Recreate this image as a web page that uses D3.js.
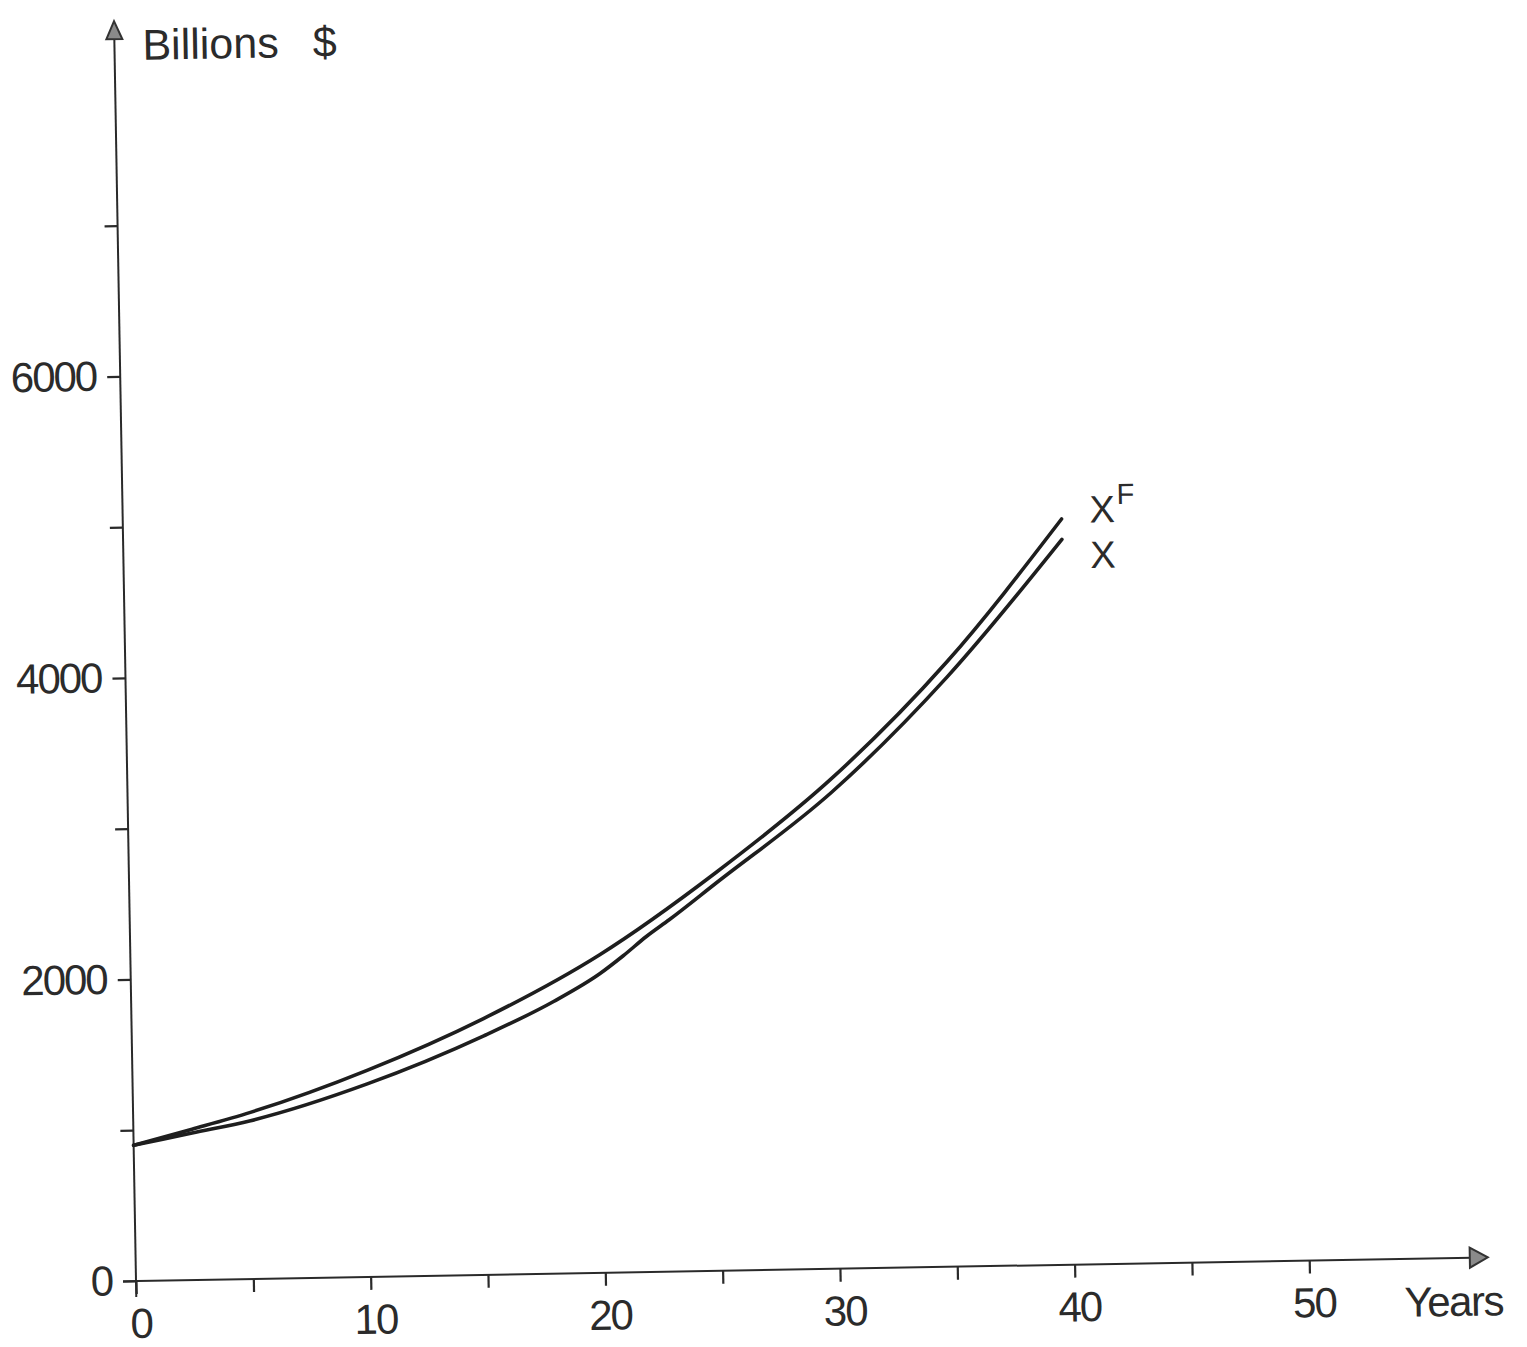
<!DOCTYPE html>
<html>
<head>
<meta charset="utf-8">
<script src="https://cdn.jsdelivr.net/npm/d3@7"></script>
<style>
  html, body { margin: 0; padding: 0; background: #fff; }
  svg { display: block; }
  text { font-family: "Liberation Sans", Arial, sans-serif; fill: #2b2b2b; }
</style>
</head>
<body>
<svg id="chart" width="1527" height="1347"></svg>
<script>
// Projected values, billions of dollars, by year
const xfYears  = [0, 2.5, 5, 10, 15, 20, 25, 30, 35, 40];
const xfValues = [900, 1000, 1105, 1370, 1700, 2110, 2640, 3250, 4010, 4945];

const xYears  = [0, 2.5, 5, 10, 15, 18, 20, 21, 22, 23, 25, 30, 35, 40];
const xValues = [900, 975, 1050, 1280, 1585, 1805, 1985, 2100, 2225, 2335, 2570, 3160, 3910, 4810];

// Axis ticks and labels
const xTickValues = [0, 5, 10, 15, 20, 25, 30, 35, 40, 45, 50];
const xLabelled   = [0, 10, 20, 30, 40, 50];
const yTickValues = [0, 1000, 2000, 3000, 4000, 5000, 6000, 7000];
const yLabelled   = [0, 2000, 4000, 6000];

const svg = d3.select("#chart");
svg.append("rect").attr("width", 1527).attr("height", 1347).attr("fill", "#fff");

// The whole drawing sits slightly turned, as on the printed page
const g = svg.append("g").attr("transform", "translate(136,1281) rotate(-1)");

const x = d3.scaleLinear().domain([0, 50]).range([0, 1173.4]);
const y = d3.scaleLinear().domain([0, 7000]).range([0, -1055.6]);

const ink = "#2a2a2a";

// Axis lines with arrowheads
g.append("line")
  .attr("x1", -13).attr("y1", 0).attr("x2", 1336).attr("y2", 0)
  .attr("stroke", ink).attr("stroke-width", 2);
g.append("path")
  .attr("d", "M1334,-10 L1352,0 L1334,10 Z")
  .attr("fill", "#8a8a8a").attr("stroke", "#333").attr("stroke-width", 2);

g.append("line")
  .attr("x1", 0).attr("y1", 16).attr("x2", 0).attr("y2", -1244)
  .attr("stroke", ink).attr("stroke-width", 2);
g.append("path")
  .attr("d", "M-8,-1242 L0,-1260 L8,-1242 Z")
  .attr("fill", "#8a8a8a").attr("stroke", "#333").attr("stroke-width", 2);

// Horizontal axis: ticks every 5 years, labels every 10
const xAxis = g.append("g")
  .call(d3.axisBottom(x)
    .tickValues(xTickValues)
    .tickSize(13)
    .tickPadding(14)
    .tickFormat(d => xLabelled.includes(d) ? d : ""));
xAxis.select(".domain").remove();
xAxis.selectAll(".tick line").attr("stroke", ink).attr("stroke-width", 2.2);
xAxis.selectAll(".tick text")
  .attr("dx", 4)
  .style("font-size", "42px")
  .style("letter-spacing", "-2px")
  .attr("fill", "#2b2b2b");

// Vertical axis: ticks every 1000, labels every 2000
const yAxis = g.append("g")
  .call(d3.axisLeft(y)
    .tickValues(yTickValues)
    .tickSize(13)
    .tickPadding(11)
    .tickFormat(d => yLabelled.includes(d) ? d : ""));
yAxis.select(".domain").remove();
yAxis.selectAll(".tick line").attr("stroke", ink).attr("stroke-width", 2.2);
yAxis.selectAll(".tick text")
  .style("font-size", "42px")
  .style("letter-spacing", "-2px")
  .attr("fill", "#2b2b2b");

// Axis titles
g.append("text")
  .attr("x", 28).attr("y", -1221)
  .style("font-size", "43px")
  .text("Billions")
  .append("tspan").attr("dx", 34).text("$");

g.append("text")
  .attr("x", 1268).attr("y", 58)
  .style("font-size", "42px")
  .style("letter-spacing", "-1.5px")
  .text("Years");

// Curves
const line = d3.line()
  .x(d => x(d[0]))
  .y(d => y(d[1]))
  .curve(d3.curveMonotoneX);

const xfSeries = xfYears.map((t, i) => [t, xfValues[i]]);
const xSeries  = xYears.map((t, i) => [t, xValues[i]]);

g.append("path")
  .datum(xfSeries)
  .attr("d", line)
  .attr("fill", "none")
  .attr("stroke", "#1e1e1e")
  .attr("stroke-width", 3.6)
  .attr("stroke-linecap", "round");

g.append("path")
  .datum(xSeries)
  .attr("d", line)
  .attr("fill", "none")
  .attr("stroke", "#1e1e1e")
  .attr("stroke-width", 3.6)
  .attr("stroke-linecap", "round");

// Series labels at the line ends
const xfEnd = xfSeries[xfSeries.length - 1];
const xEnd  = xSeries[xSeries.length - 1];

const lblF = g.append("text")
  .attr("x", x(xfEnd[0]) + 28)
  .attr("y", y(xfEnd[1]) + 4)
  .style("font-size", "38px");
lblF.append("tspan").text("X");
lblF.append("tspan")
  .attr("dx", 2).attr("dy", -18)
  .style("font-size", "29px")
  .text("F");

g.append("text")
  .attr("x", x(xEnd[0]) + 28)
  .attr("y", y(xEnd[1]) + 29)
  .style("font-size", "38px")
  .text("X");
</script>
</body>
</html>
